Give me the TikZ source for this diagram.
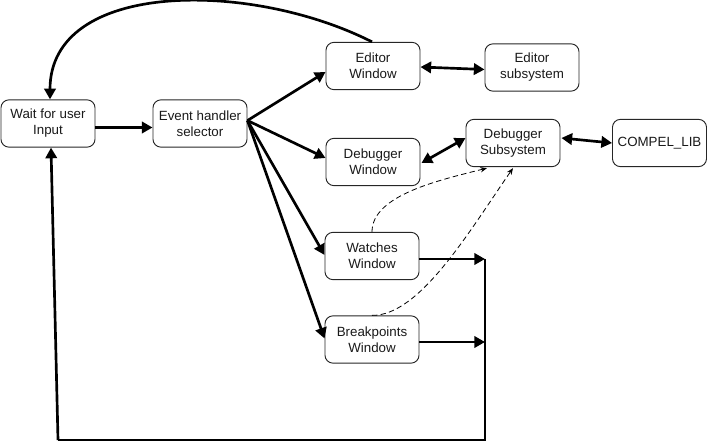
\documentclass[tikz,border=0pt]{standalone}
\usepackage{fontspec}
\setmainfont{Liberation Sans}
\usetikzlibrary{arrows.meta,calc}
\begin{document}
\begin{tikzpicture}[x=0.75pt,y=-0.75pt,
  box/.style={draw=black!85,line width=0.7pt,rounded corners=6pt,minimum width=70.5pt,minimum height=35.5pt,align=center,inner sep=1pt,font=\fontsize{10}{12}\selectfont,text=black!90},
  thick arrow/.style={line width=2pt,-{Triangle[length=8pt,width=8.5pt]}},
  both arrow/.style={line width=2pt,{Triangle[length=8pt,width=8.5pt]}-{Triangle[length=8pt,width=8.5pt]}},
  thick line/.style={line width=2pt},
  dash arrow/.style={line width=0.6pt,dash pattern=on 4pt off 2.5pt,-{Stealth[length=5pt,width=4pt]}}]
\useasboundingbox (0,0) rectangle (708,442);
\node[box] (wait) at (48,123.5) {Wait for user\\Input};
\node[box] (ev) at (200,123.5) {Event handler\\selector};
\node[box] (ew) at (373,66) {Editor\\Window};
\node[box] (es) at (532,67.5) {Editor\\subsystem};
\node[box] (dw) at (373,162) {Debugger\\Window};
\node[box] (ds) at (513,143) {Debugger\\Subsystem};
\node[box] (cl) at (659.5,143) {COMPEL\_LIB};
\node[box] (ww) at (372,256) {Watches\\Window};
\node[box] (bw) at (372,339.5) {Breakpoints\\Window};
\coordinate (j1) at (485,259);
\coordinate (j2) at (485,342);
\coordinate (c1) at (485,440);
\coordinate (c2) at (58,440);
% main flow
\draw[thick arrow] ($(wait.east)+(0,4)$) -- ($(ev.west)+(0,4)$);
\draw[thick arrow] ($(ev.east)+(0,-3)$) -- ($(ew.west)+(0,6)$);
\draw[thick arrow] ($(ev.east)+(0,-3)$) -- ($(dw.west)+(0,-4)$);
\draw[thick arrow] ($(ev.east)+(0,-3)$) -- ($(ww.west)+(0,-1)$);
\draw[thick arrow] ($(ev.east)+(0,-3)$) -- ($(bw.west)+(0,-1)$);
% return curve
\draw[thick arrow] ($(ew.north)+(-1,0)$) .. controls (250,-20) and (50,-20) .. ($(wait.north)+(2,0)$);
% double arrows
\draw[both arrow] ($(ew.east)+(0,1)$) -- ($(es.west)+(0,2)$);
\draw[both arrow] ($(dw.east)+(1,1)$) -- ($(ds.west)+(0,-5)$);
\draw[both arrow] ($(ds.east)+(1,-5)$) -- (cl.west);
% to junction
\draw[thick arrow] ($(ww.east)+(0,3)$) -- (j1);
\draw[thick arrow] ($(bw.east)+(0,2.5)$) -- (j2);
\draw[thick line] (j1) -- (c1) -- (c2);
\draw[thick arrow] (c2) -- ($(wait.south)+(3,0)$);
% dashed
\draw[dash arrow] (ww.north) .. controls (372,195) and (440,180) .. ($(ds.south)+(-26,1)$);
\draw[dash arrow] (bw.north) .. controls (420,316) and (470,230) .. ($(ds.south)+(0,1)$);
\end{tikzpicture}
\end{document}
